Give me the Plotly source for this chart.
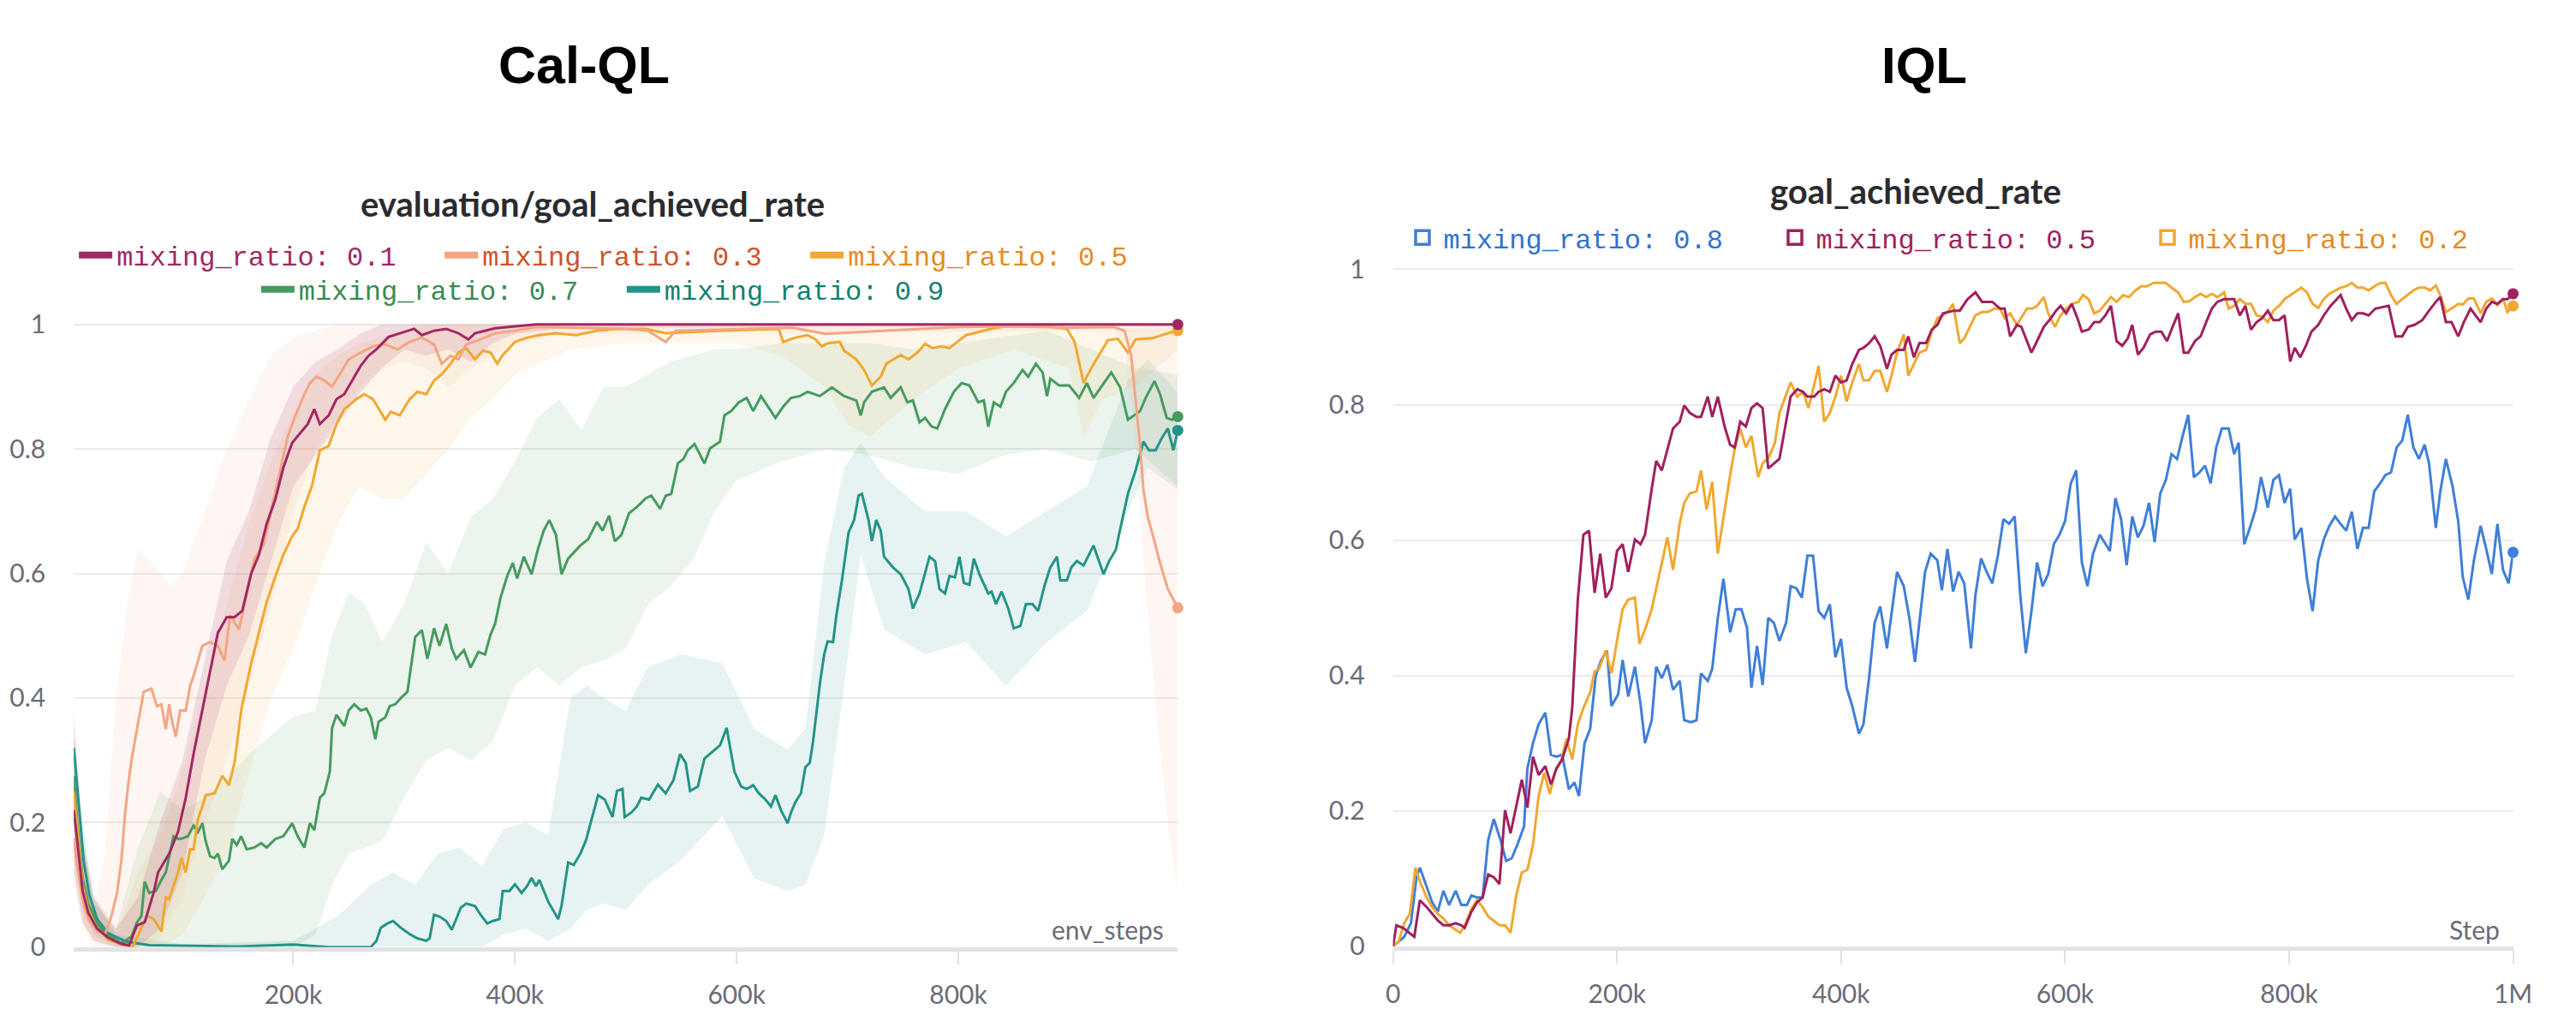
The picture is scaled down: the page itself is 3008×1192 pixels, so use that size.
import plotly.graph_objects as go

W, H = 3008, 1192

# ================= Cal-QL (left) : x in thousands of env_steps =================
CQ01_X = [2, 5, 10, 15, 23, 33, 45, 52, 59, 66, 74, 78, 88, 96, 103, 110, 118, 125, 132, 140, 147, 154, 162, 169,
          176, 184, 191, 199, 206, 213, 219, 224, 232, 239, 246, 253, 261, 268, 275, 286, 297, 309, 316, 327, 338,
          349, 358, 364, 382, 400, 419, 450, 500, 550, 600, 650, 700, 750, 800, 850, 900, 950, 998]
CQ01_Y = [0.22, 0.17, 0.09, 0.055, 0.03, 0.015, 0.005, 0.003, 0.035, 0.04, 0.087, 0.12, 0.15, 0.185, 0.24, 0.31,
          0.38, 0.44, 0.505, 0.53, 0.53, 0.54, 0.6, 0.63, 0.68, 0.72, 0.77, 0.81, 0.825, 0.84, 0.864, 0.84, 0.854,
          0.88, 0.888, 0.91, 0.934, 0.95, 0.96, 0.98, 0.986, 0.993, 0.983, 0.99, 0.993, 0.986, 0.976, 0.986, 0.994,
          0.997, 1.0, 1.0, 1.0, 1.0, 1.0, 1.0, 1.0, 1.0, 1.0, 1.0, 1.0, 1.0, 1.0]

CQ03_X = [2, 5, 10, 15, 23, 30, 36, 41, 45, 48, 51, 54, 59, 65, 72, 77, 81, 85, 88, 91, 94, 98, 103, 107, 110, 118,
          125, 132, 138, 143, 151, 158, 165, 173, 180, 187, 195, 202, 210, 215, 221, 228, 235, 243, 250, 261, 272,
          283, 294, 305, 316, 327, 334, 342, 349, 356, 367, 382, 400, 419, 450, 500, 520, 536, 545, 600, 650, 680,
          740, 800, 850, 900, 940, 950, 956, 960, 964, 967, 971, 975, 982, 989, 998]
CQ03_Y = [0.175, 0.13, 0.075, 0.045, 0.025, 0.02, 0.05, 0.087, 0.14, 0.21, 0.26, 0.3, 0.35, 0.41, 0.415, 0.387, 0.39,
          0.35, 0.39, 0.36, 0.338, 0.38, 0.38, 0.42, 0.435, 0.484, 0.49, 0.484, 0.46, 0.533, 0.51, 0.568, 0.624,
          0.645, 0.7, 0.756, 0.82, 0.854, 0.888, 0.906, 0.916, 0.91, 0.9, 0.923, 0.944, 0.955, 0.965, 0.968, 0.96,
          0.972, 0.979, 0.968, 0.937, 0.95, 0.944, 0.968, 0.975, 0.986, 0.99, 0.996, 0.995, 0.993, 0.99, 0.972, 0.99,
          0.993, 0.995, 0.985, 0.99, 0.996, 0.997, 0.995, 0.996, 0.99, 0.95, 0.88, 0.805, 0.735, 0.69, 0.665, 0.617,
          0.575, 0.545]

CQ05_X = [2, 5, 10, 15, 23, 33, 45, 55, 63, 68, 74, 81, 85, 88, 96, 99, 103, 107, 110, 114, 118, 121, 129, 136, 142,
          147, 153, 158, 162, 169, 176, 184, 191, 199, 204, 210, 217, 224, 232, 239, 246, 257, 264, 272, 279, 283,
          288, 296, 305, 312, 320, 327, 334, 342, 349, 356, 364, 371, 378, 384, 389, 400, 411, 422, 437, 455, 474,
          492, 518, 536, 587, 638, 642, 653, 664, 671, 677, 682, 693, 697, 708, 715, 722, 730, 735, 741, 748, 755,
          763, 770, 777, 785, 792, 799, 807, 814, 829, 843, 880, 898, 905, 913, 920, 935, 944, 953, 960, 975, 989,
          998]
CQ05_Y = [0.25, 0.19, 0.1, 0.06, 0.03, 0.012, 0.004, 0.0, 0.03, 0.05, 0.045, 0.025, 0.08, 0.077, 0.12, 0.143, 0.12,
          0.157, 0.157, 0.206, 0.226, 0.244, 0.247, 0.275, 0.26, 0.296, 0.38, 0.42, 0.456, 0.505, 0.554, 0.596, 0.63,
          0.66, 0.672, 0.707, 0.742, 0.798, 0.805, 0.84, 0.864, 0.88, 0.888, 0.88, 0.86, 0.847, 0.86, 0.854, 0.88,
          0.892, 0.888, 0.91, 0.92, 0.937, 0.955, 0.962, 0.944, 0.958, 0.955, 0.937, 0.951, 0.972, 0.979, 0.983,
          0.986, 0.983, 0.99, 0.993, 0.993, 0.986, 0.99, 0.993, 0.972, 0.979, 0.983, 0.976, 0.965, 0.97, 0.972,
          0.958, 0.944, 0.927, 0.902, 0.916, 0.937, 0.944, 0.951, 0.944, 0.955, 0.969, 0.962, 0.965, 0.962, 0.972,
          0.983, 0.986, 0.993, 0.997, 0.997, 0.993, 0.972, 0.906, 0.93, 0.975, 0.977, 0.955, 0.976, 0.978, 0.986,
          0.99]

CQ07_X = [2, 5, 10, 15, 23, 33, 45, 54, 59, 63, 66, 70, 76, 81, 85, 88, 92, 96, 99, 105, 110, 114, 118, 121, 125, 129,
          132, 136, 142, 145, 149, 153, 158, 165, 171, 176, 184, 191, 199, 204, 210, 215, 219, 224, 228, 233, 235,
          239, 246, 250, 255, 261, 266, 270, 274, 277, 283, 287, 292, 297, 303, 307, 310, 316, 321, 327, 332, 338,
          343, 347, 354, 360, 367, 373, 378, 382, 387, 393, 398, 402, 408, 415, 421, 426, 431, 437, 442, 448, 453,
          459, 466, 474, 479, 485, 490, 496, 503, 510, 518, 523, 531, 536, 541, 547, 552, 556, 562, 571, 576, 585,
          589, 595, 602, 609, 615, 622, 635, 642, 649, 657, 664, 675, 686, 697, 708, 712, 715, 722, 733, 739, 748,
          754, 759, 765, 770, 776, 781, 788, 796, 803, 810, 818, 823, 827, 832, 838, 843, 850, 858, 863, 870, 876,
          880, 883, 891, 900, 909, 916, 922, 931, 938, 946, 953, 964, 969, 977, 982, 988, 993, 998]
CQ07_Y = [0.275, 0.2, 0.11, 0.07, 0.038, 0.018, 0.006, 0.017, 0.04, 0.05, 0.105, 0.087, 0.09, 0.108, 0.12, 0.146,
          0.178, 0.174, 0.174, 0.178, 0.195, 0.185, 0.199, 0.17, 0.146, 0.143, 0.15, 0.125, 0.139, 0.174, 0.164,
          0.178, 0.157, 0.16, 0.167, 0.16, 0.174, 0.178, 0.199, 0.178, 0.16, 0.199, 0.188, 0.24, 0.247, 0.282, 0.352,
          0.373, 0.355, 0.38, 0.39, 0.38, 0.383, 0.369, 0.334, 0.362, 0.369, 0.387, 0.39, 0.4, 0.41, 0.46, 0.498,
          0.509, 0.463, 0.512, 0.484, 0.519, 0.48, 0.463, 0.477, 0.449, 0.474, 0.47, 0.502, 0.519, 0.561, 0.596,
          0.617, 0.592, 0.627, 0.599, 0.641, 0.669, 0.686, 0.662, 0.599, 0.624, 0.634, 0.645, 0.655, 0.683, 0.669,
          0.693, 0.652, 0.662, 0.697, 0.707, 0.721, 0.725, 0.704, 0.725, 0.728, 0.777, 0.784, 0.798, 0.808, 0.777,
          0.801, 0.812, 0.854, 0.861, 0.875, 0.882, 0.861, 0.885, 0.85, 0.868, 0.882, 0.885, 0.892, 0.885, 0.899,
          0.885, 0.878, 0.854, 0.875, 0.892, 0.899, 0.882, 0.899, 0.875, 0.878, 0.843, 0.85, 0.836, 0.833, 0.864,
          0.892, 0.906, 0.902, 0.875, 0.878, 0.836, 0.875, 0.868, 0.892, 0.906, 0.927, 0.916, 0.937, 0.923, 0.885,
          0.913, 0.902, 0.902, 0.882, 0.906, 0.882, 0.906, 0.923, 0.899, 0.847, 0.861, 0.882, 0.909, 0.888, 0.85,
          0.847, 0.852]

CQ09_X = [2, 5, 11, 16, 23, 33, 49, 70, 100, 150, 200, 232, 270, 275, 279, 285, 290, 297, 305, 312, 320, 323, 327,
          332, 338, 343, 347, 351, 356, 364, 369, 375, 380, 386, 389, 395, 400, 406, 411, 415, 419, 422, 430, 439,
          442, 448, 453, 459, 464, 470, 475, 481, 488, 492, 497, 499, 505, 510, 514, 521, 529, 536, 543, 549, 554,
          558, 565, 571, 578, 585, 591, 598, 604, 609, 615, 620, 626, 631, 635, 640, 646, 649, 653, 658, 662, 666,
          669, 675, 679, 682, 687, 690, 695, 701, 706, 710, 713, 719, 722, 726, 730, 733, 741, 748, 755, 759, 765,
          770, 774, 779, 783, 788, 792, 797, 801, 805, 810, 814, 819, 827, 830, 834, 839, 845, 850, 856, 861, 867,
          872, 878, 883, 889, 892, 898, 902, 907, 913, 922, 931, 936, 942, 947, 953, 960, 967, 972, 978, 984, 989,
          994, 998]
CQ09_Y = [0.32, 0.26, 0.137, 0.084, 0.045, 0.022, 0.009, 0.003, 0.002, 0.001, 0.004, 0.0, 0.0, 0.01, 0.031, 0.038,
          0.042, 0.031, 0.021, 0.014, 0.01, 0.014, 0.052, 0.049, 0.042, 0.028, 0.045, 0.063, 0.07, 0.066, 0.052,
          0.038, 0.042, 0.045, 0.09, 0.09, 0.101, 0.087, 0.098, 0.111, 0.098, 0.108, 0.073, 0.045, 0.066, 0.136,
          0.132, 0.15, 0.171, 0.213, 0.244, 0.237, 0.209, 0.251, 0.254, 0.209, 0.216, 0.226, 0.24, 0.237, 0.261,
          0.247, 0.268, 0.31, 0.296, 0.251, 0.258, 0.303, 0.314, 0.324, 0.352, 0.282, 0.258, 0.254, 0.26, 0.247,
          0.237, 0.226, 0.244, 0.22, 0.199, 0.216, 0.233, 0.247, 0.289, 0.296, 0.331, 0.422, 0.47, 0.491, 0.49,
          0.533, 0.589, 0.666, 0.686, 0.725, 0.728, 0.686, 0.652, 0.686, 0.669, 0.627, 0.61, 0.599, 0.575, 0.544,
          0.568, 0.603, 0.627, 0.62, 0.575, 0.568, 0.596, 0.594, 0.627, 0.585, 0.582, 0.624, 0.599, 0.568, 0.571,
          0.551, 0.571, 0.544, 0.512, 0.516, 0.551, 0.551, 0.54, 0.582, 0.61, 0.627, 0.589, 0.589, 0.61, 0.62,
          0.613, 0.645, 0.599, 0.62, 0.638, 0.679, 0.728, 0.766, 0.812, 0.798, 0.798, 0.819, 0.833, 0.798, 0.83]

# min / max bands of the runs
CQ01_BX = [2, 10, 20, 40, 60, 80, 100, 120, 140, 160, 180, 200, 220, 240, 260, 280, 300, 320, 340, 360, 380, 400, 450, 998]
CQ01_LO = [0.12, 0.04, 0.01, 0.0, 0.0, 0.03, 0.12, 0.3, 0.42, 0.5, 0.62, 0.74, 0.79, 0.84, 0.89, 0.93, 0.96, 0.95,
           0.96, 0.94, 0.97, 0.985, 0.995, 0.997]
CQ01_HI = [0.38, 0.17, 0.08, 0.03, 0.08, 0.2, 0.3, 0.46, 0.62, 0.7, 0.82, 0.9, 0.94, 0.96, 0.985, 1.0, 1.0, 1.0, 1.0,
           1.0, 1.0, 1.0, 1.0, 1.0]

CQ03_BX = [2, 10, 20, 30, 40, 50, 60, 70, 80, 90, 100, 120, 140, 160, 180, 200, 220, 240, 260, 280, 300, 320, 340, 360,
           400, 450, 940, 950, 960, 970, 980, 990, 998]
CQ03_LO = [0.1, 0.03, 0.0, 0.0, 0.0, 0.0, 0.0, 0.0, 0.02, 0.05, 0.08, 0.2, 0.3, 0.42, 0.55, 0.7, 0.8, 0.85, 0.9, 0.93,
           0.94, 0.93, 0.9, 0.93, 0.97, 0.985, 0.99, 0.97, 0.8, 0.55, 0.35, 0.18, 0.09]
CQ03_HI = [0.3, 0.12, 0.06, 0.15, 0.4, 0.55, 0.64, 0.62, 0.6, 0.58, 0.6, 0.7, 0.8, 0.88, 0.95, 0.98, 0.99, 1.0, 1.0,
           1.0, 1.0, 1.0, 1.0, 1.0, 1.0, 1.0, 1.0, 1.0, 1.0, 1.0, 1.0, 1.0, 1.0]

CQ05_BX = [2, 10, 20, 40, 60, 80, 100, 120, 140, 160, 180, 200, 220, 240, 260, 280, 300, 320, 340, 360, 380, 400, 450,
           500, 600, 640, 680, 700, 720, 760, 800, 850, 900, 913, 930, 960, 998]
CQ05_LO = [0.15, 0.04, 0.01, 0.0, 0.0, 0.0, 0.02, 0.08, 0.15, 0.28, 0.4, 0.48, 0.58, 0.68, 0.74, 0.72, 0.72, 0.76, 0.8,
           0.85, 0.88, 0.92, 0.96, 0.97, 0.97, 0.95, 0.9, 0.84, 0.82, 0.88, 0.93, 0.96, 0.93, 0.82, 0.88, 0.9, 0.96]
CQ05_HI = [0.35, 0.17, 0.08, 0.02, 0.12, 0.18, 0.28, 0.42, 0.55, 0.68, 0.78, 0.86, 0.92, 0.95, 0.97, 0.98, 0.99, 1.0,
           1.0, 1.0, 1.0, 1.0, 1.0, 1.0, 1.0, 1.0, 1.0, 1.0, 1.0, 1.0, 1.0, 1.0, 1.0, 1.0, 1.0, 1.0, 1.0]

CQ07_BX = [2, 10, 20, 40, 60, 80, 100, 120, 140, 160, 180, 200, 220, 235, 250, 265, 280, 300, 320, 340, 360, 380, 400,
           420, 440, 460, 480, 500, 520, 540, 560, 580, 600, 640, 680, 720, 760, 800, 840, 880, 920, 960, 998]
CQ07_LO = [0.2, 0.06, 0.02, 0.0, 0.0, 0.0, 0.0, 0.0, 0.0, 0.0, 0.0, 0.0, 0.02, 0.1, 0.15, 0.16, 0.17, 0.24, 0.3, 0.32,
           0.3, 0.33, 0.42, 0.45, 0.42, 0.45, 0.46, 0.48, 0.55, 0.58, 0.62, 0.7, 0.75, 0.78, 0.8, 0.79, 0.77, 0.76,
           0.79, 0.8, 0.78, 0.8, 0.74]
CQ07_HI = [0.3, 0.18, 0.07, 0.03, 0.16, 0.25, 0.22, 0.24, 0.27, 0.31, 0.34, 0.37, 0.38, 0.5, 0.57, 0.55, 0.49, 0.55,
           0.65, 0.6, 0.69, 0.72, 0.78, 0.85, 0.88, 0.83, 0.9, 0.9, 0.92, 0.94, 0.95, 0.96, 0.96, 0.97, 0.97, 0.97,
           0.96, 0.97, 0.98, 0.99, 0.96, 0.93, 0.92]

CQ09_BX = [2, 10, 20, 40, 100, 200, 240, 270, 290, 310, 330, 350, 370, 390, 410, 430, 450, 465, 480, 500, 520, 550, 587,
           616, 646, 662, 679, 697, 712, 733, 770, 807, 843, 880, 916, 953, 971, 998]
CQ09_LO = [0.25, 0.08, 0.03, 0.005, 0.0, 0.0, 0.0, 0.0, 0.0, 0.0, 0.0, 0.0, 0.0, 0.02, 0.03, 0.01, 0.03, 0.06, 0.07,
           0.06, 0.1, 0.14, 0.21, 0.11, 0.09, 0.1, 0.18, 0.42, 0.63, 0.51, 0.47, 0.49, 0.42, 0.49, 0.54, 0.7, 0.77,
           0.735]
CQ09_HI = [0.34, 0.2, 0.08, 0.02, 0.005, 0.01, 0.05, 0.1, 0.12, 0.1, 0.15, 0.16, 0.13, 0.19, 0.2, 0.18, 0.4, 0.42, 0.4,
           0.38, 0.45, 0.47, 0.456, 0.35, 0.317, 0.35, 0.617, 0.77, 0.81, 0.756, 0.7, 0.7, 0.66, 0.7, 0.74, 0.91,
           0.944, 0.89]

# ================= IQL (right) : x in thousands of steps =================
IQ08_X = [0, 5, 10, 16, 21, 24, 30, 35, 40, 45, 50, 56, 61, 66, 70, 75, 80, 85, 90, 96, 101, 106, 111, 117, 120, 125,
          130, 136, 141, 146, 151, 157, 162, 166, 171, 176, 181, 186, 191, 195, 201, 205, 210, 216, 221, 225, 231,
          235, 240, 245, 250, 256, 260, 266, 271, 275, 281, 285, 290, 295, 301, 306, 311, 316, 320, 325, 330, 335,
          340, 345, 351, 355, 360, 365, 370, 375, 380, 385, 390, 395, 400, 405, 410, 416, 420, 425, 430, 435, 441,
          445, 450, 456, 461, 466, 471, 475, 480, 486, 490, 495, 500, 505, 510, 516, 520, 525, 530, 535, 540, 545,
          550, 555, 560, 565, 570, 575, 580, 585, 590, 595, 600, 605, 610, 615, 620, 625, 631, 635, 640, 645, 650,
          655, 660, 665, 670, 675, 680, 685, 690, 695, 700, 705, 710, 715, 720, 725, 730, 735, 740, 746, 751, 755,
          760, 765, 770, 775, 781, 786, 791, 796, 801, 805, 811, 816, 821, 826, 831, 836, 841, 846, 851, 856, 861,
          866, 871, 876, 881, 886, 891, 896, 901, 906, 911, 916, 921, 925, 931, 935, 940, 946, 951, 955, 960, 965,
          971, 976, 981, 986, 991, 996, 1000]
IQ08_Y = [0.0, 0.007, 0.014, 0.034, 0.102, 0.116, 0.089, 0.065, 0.051, 0.082, 0.061, 0.082, 0.061, 0.061, 0.075,
          0.072, 0.072, 0.157, 0.188, 0.157, 0.126, 0.13, 0.15, 0.177, 0.263, 0.3, 0.328, 0.345, 0.283, 0.28, 0.283,
          0.232, 0.242, 0.222, 0.3, 0.321, 0.4, 0.423, 0.437, 0.355, 0.372, 0.423, 0.369, 0.413, 0.358, 0.3, 0.334,
          0.413, 0.396, 0.416, 0.379, 0.392, 0.334, 0.331, 0.334, 0.403, 0.392, 0.41, 0.485, 0.543, 0.464, 0.498,
          0.498, 0.471, 0.382, 0.444, 0.386, 0.485, 0.478, 0.451, 0.478, 0.532, 0.529, 0.515, 0.577, 0.577, 0.495,
          0.485, 0.505, 0.427, 0.454, 0.382, 0.355, 0.314, 0.328, 0.396, 0.478, 0.502, 0.44, 0.491, 0.553, 0.532,
          0.485, 0.42, 0.495, 0.553, 0.58, 0.57, 0.526, 0.587, 0.524, 0.553, 0.536, 0.44, 0.519, 0.573, 0.553, 0.536,
          0.577, 0.631, 0.624, 0.635, 0.519, 0.433, 0.495, 0.567, 0.532, 0.55, 0.594, 0.608, 0.628, 0.683, 0.703,
          0.567, 0.532, 0.58, 0.608, 0.597, 0.584, 0.662, 0.631, 0.563, 0.635, 0.604, 0.621, 0.655, 0.597, 0.669,
          0.689, 0.727, 0.72, 0.754, 0.785, 0.693, 0.7, 0.71, 0.684, 0.737, 0.765, 0.765, 0.727, 0.744, 0.594,
          0.618, 0.645, 0.693, 0.648, 0.689, 0.696, 0.655, 0.676, 0.601, 0.618, 0.543, 0.495, 0.57, 0.601, 0.621,
          0.635, 0.624, 0.614, 0.642, 0.587, 0.618, 0.618, 0.672, 0.683, 0.696, 0.7, 0.737, 0.747, 0.785, 0.737,
          0.72, 0.741, 0.713, 0.618, 0.672, 0.72, 0.679, 0.628, 0.546, 0.512, 0.57, 0.621, 0.587, 0.55, 0.624,
          0.556, 0.536, 0.582]

IQ05_X = [0, 3, 9, 14, 19, 24, 30, 35, 40, 45, 50, 56, 61, 64, 70, 75, 80, 85, 90, 95, 100, 105, 110, 115, 120, 125,
          130, 136, 141, 146, 151, 157, 160, 165, 170, 175, 180, 185, 190, 195, 200, 205, 210, 216, 221, 225, 231,
          235, 240, 245, 250, 256, 260, 265, 271, 275, 281, 285, 290, 296, 301, 305, 310, 315, 320, 325, 330, 335,
          340, 345, 351, 355, 361, 366, 370, 376, 380, 385, 390, 395, 400, 405, 410, 416, 420, 425, 430, 435, 441,
          445, 450, 456, 460, 465, 470, 476, 481, 486, 491, 496, 501, 506, 513, 520, 526, 535, 542, 546, 551, 557,
          561, 566, 570, 575, 581, 586, 592, 596, 601, 606, 611, 615, 621, 626, 631, 636, 641, 646, 651, 656, 660,
          665, 670, 676, 681, 686, 691, 696, 701, 706, 710, 716, 721, 726, 731, 736, 742, 747, 751, 756, 761, 766,
          771, 776, 781, 786, 791, 796, 801, 805, 810, 815, 820, 826, 831, 837, 846, 851, 856, 861, 866, 871, 877,
          889, 895, 901, 906, 912, 919, 925, 931, 935, 940, 945, 951, 956, 962, 971, 976, 981, 986, 991, 995, 1000]
IQ05_Y = [0.0, 0.031, 0.027, 0.02, 0.014, 0.068, 0.058, 0.048, 0.038, 0.031, 0.031, 0.034, 0.031, 0.027, 0.051, 0.065,
          0.072, 0.106, 0.102, 0.092, 0.201, 0.167, 0.208, 0.246, 0.205, 0.28, 0.253, 0.266, 0.239, 0.263, 0.276,
          0.307, 0.352, 0.512, 0.608, 0.614, 0.522, 0.58, 0.515, 0.529, 0.584, 0.594, 0.553, 0.601, 0.594, 0.608,
          0.676, 0.717, 0.703, 0.734, 0.765, 0.775, 0.799, 0.788, 0.782, 0.782, 0.812, 0.782, 0.812, 0.768, 0.741,
          0.737, 0.775, 0.768, 0.795, 0.802, 0.795, 0.706, 0.713, 0.72, 0.775, 0.812, 0.823, 0.819, 0.812, 0.812,
          0.819, 0.823, 0.819, 0.843, 0.833, 0.836, 0.86, 0.881, 0.884, 0.891, 0.901, 0.887, 0.853, 0.874, 0.881,
          0.881, 0.901, 0.87, 0.891, 0.891, 0.911, 0.918, 0.935, 0.937, 0.939, 0.939, 0.956, 0.966, 0.952, 0.952,
          0.942, 0.942, 0.901, 0.918, 0.915, 0.894, 0.877, 0.894, 0.915, 0.925, 0.939, 0.946, 0.935, 0.949, 0.928,
          0.908, 0.911, 0.922, 0.922, 0.932, 0.946, 0.894, 0.887, 0.898, 0.918, 0.874, 0.884, 0.904, 0.908, 0.908,
          0.894, 0.915, 0.935, 0.877, 0.877, 0.894, 0.901, 0.922, 0.942, 0.952, 0.956, 0.956, 0.956, 0.932, 0.946,
          0.911, 0.922, 0.928, 0.939, 0.925, 0.925, 0.932, 0.864, 0.884, 0.87, 0.887, 0.908, 0.918, 0.932, 0.946,
          0.962, 0.942, 0.925, 0.935, 0.935, 0.932, 0.942, 0.946, 0.901, 0.901, 0.915, 0.918, 0.925, 0.939, 0.952,
          0.959, 0.922, 0.922, 0.901, 0.922, 0.942, 0.922, 0.942, 0.952, 0.949, 0.956, 0.956, 0.964]

IQ02_X = [0, 5, 10, 15, 20, 24, 30, 35, 40, 45, 50, 56, 60, 64, 70, 75, 80, 85, 90, 95, 100, 105, 110, 115, 120, 125,
          130, 135, 140, 145, 150, 155, 160, 165, 170, 176, 180, 184, 190, 195, 200, 205, 210, 216, 220, 225, 231,
          235, 240, 245, 250, 256, 260, 265, 271, 275, 280, 285, 290, 296, 301, 305, 310, 315, 320, 326, 330, 336,
          341, 345, 351, 355, 361, 366, 371, 376, 380, 385, 390, 395, 400, 405, 410, 416, 420, 425, 430, 435, 441,
          445, 450, 456, 460, 465, 470, 476, 481, 486, 491, 496, 500, 506, 510, 515, 520, 526, 531, 537, 542, 546,
          551, 557, 561, 566, 571, 575, 581, 585, 591, 596, 601, 606, 612, 616, 621, 626, 631, 636, 641, 646, 652,
          657, 663, 668, 673, 679, 685, 690, 695, 701, 706, 711, 716, 721, 726, 731, 736, 742, 746, 751, 756, 761,
          766, 771, 776, 781, 786, 791, 796, 801, 805, 811, 816, 821, 826, 831, 836, 841, 846, 851, 856, 861, 866,
          871, 877, 882, 886, 891, 896, 901, 906, 911, 916, 921, 926, 931, 935, 940, 945, 951, 955, 960, 965, 971,
          976, 981, 986, 991, 995, 1000]
IQ02_Y = [0.0, 0.007, 0.034, 0.048, 0.116, 0.096, 0.072, 0.058, 0.048, 0.041, 0.031, 0.024, 0.02, 0.031, 0.055,
          0.068, 0.058, 0.044, 0.038, 0.031, 0.031, 0.02, 0.075, 0.109, 0.113, 0.15, 0.222, 0.256, 0.225, 0.259,
          0.273, 0.307, 0.276, 0.328, 0.352, 0.375, 0.406, 0.41, 0.437, 0.403, 0.451, 0.498, 0.512, 0.515, 0.447,
          0.468, 0.498, 0.529, 0.567, 0.604, 0.556, 0.625, 0.655, 0.669, 0.672, 0.703, 0.645, 0.686, 0.58, 0.645,
          0.696, 0.734, 0.765, 0.737, 0.754, 0.693, 0.713, 0.724, 0.744, 0.788, 0.816, 0.833, 0.812, 0.819, 0.795,
          0.829, 0.857, 0.775, 0.788, 0.812, 0.843, 0.805, 0.833, 0.86, 0.836, 0.836, 0.85, 0.85, 0.819, 0.843,
          0.877, 0.904, 0.843, 0.86, 0.877, 0.881, 0.908, 0.928, 0.932, 0.939, 0.949, 0.891, 0.898, 0.915, 0.932,
          0.937, 0.937, 0.942, 0.942, 0.928, 0.935, 0.918, 0.928, 0.942, 0.942, 0.946, 0.959, 0.935, 0.915, 0.932,
          0.942, 0.949, 0.952, 0.962, 0.956, 0.935, 0.939, 0.949, 0.959, 0.952, 0.962, 0.959, 0.969, 0.975, 0.975,
          0.98, 0.98, 0.98, 0.973, 0.966, 0.952, 0.953, 0.959, 0.964, 0.959, 0.964, 0.959, 0.966, 0.942, 0.946,
          0.956, 0.949, 0.949, 0.932, 0.93, 0.922, 0.939, 0.946, 0.956, 0.962, 0.966, 0.973, 0.966, 0.949, 0.943,
          0.956, 0.964, 0.968, 0.973, 0.975, 0.98, 0.973, 0.973, 0.969, 0.976, 0.98, 0.98, 0.962, 0.949, 0.956,
          0.962, 0.969, 0.973, 0.973, 0.969, 0.976, 0.962, 0.937, 0.942, 0.949, 0.948, 0.957, 0.957, 0.935, 0.952,
          0.957, 0.947, 0.957, 0.937, 0.946]

X_TICKS_L = [200, 400, 600, 800]
X_TICKS_R = [0, 200, 400, 600, 800, 1000]
X_TICKTEXT_L = ["200k", "400k", "600k", "800k"]
X_TICKTEXT_R = ["0", "200k", "400k", "600k", "800k", "1M"]
Y_TICKS = [0, 0.2, 0.4, 0.6, 0.8, 1]
Y_TICKTEXT = ["0", "0.2", "0.4", "0.6", "0.8", "1"]

# ---------------- styling ----------------
C01, C03, C05, C07, C09 = "#A12864", "#F4A583", "#F0A830", "#479A5F", "#229487"
T01, T03, T05, T07, T09 = "#A12864", "#CC5529", "#E58A1F", "#3A8A50", "#13806F"
CB, CM, CO = "#3F7FD8", "#A0205E", "#F0A830"
TB, TM, TO = "#2F72D2", "#A0205E", "#E58A1F"
BAND = {C01: "rgba(161,40,100,0.13)", C03: "rgba(244,165,131,0.10)", C05: "rgba(240,168,48,0.10)",
        C07: "rgba(71,154,95,0.11)", C09: "rgba(34,148,135,0.11)"}

TICKFONT = dict(family="Lato", size=30, color="#6b6b78")
GRID = "#ebebeb"
AXLINE = "#e2e2e6"

fig = go.Figure()

def k(xs):
    return [v * 1000 for v in xs]

left = [(CQ09_X, CQ09_Y, CQ09_BX, CQ09_LO, CQ09_HI, C09),
        (CQ07_X, CQ07_Y, CQ07_BX, CQ07_LO, CQ07_HI, C07),
        (CQ05_X, CQ05_Y, CQ05_BX, CQ05_LO, CQ05_HI, C05),
        (CQ03_X, CQ03_Y, CQ03_BX, CQ03_LO, CQ03_HI, C03),
        (CQ01_X, CQ01_Y, CQ01_BX, CQ01_LO, CQ01_HI, C01)]

for xs, ys, bx, lo, hi, col in left:
    fig.add_trace(go.Scatter(x=k(bx), y=lo, mode="lines", line=dict(width=0, color=col),
                             showlegend=False, hoverinfo="skip", xaxis="x", yaxis="y"))
    fig.add_trace(go.Scatter(x=k(bx), y=hi, mode="lines", line=dict(width=0, color=col), fill="tonexty",
                             fillcolor=BAND[col], showlegend=False, hoverinfo="skip", xaxis="x", yaxis="y"))
for xs, ys, bx, lo, hi, col in left:
    fig.add_trace(go.Scatter(x=k(xs), y=ys, mode="lines", line=dict(width=3, color=col),
                             showlegend=False, xaxis="x", yaxis="y", cliponaxis=False))
for xs, ys, bx, lo, hi, col in left:
    fig.add_trace(go.Scatter(x=k(xs[-1:]), y=ys[-1:], mode="markers", marker=dict(size=13, color=col),
                             showlegend=False, xaxis="x", yaxis="y", cliponaxis=False))

right = [(IQ08_X, IQ08_Y, CB), (IQ02_X, IQ02_Y, CO), (IQ05_X, IQ05_Y, CM)]
for xs, ys, col in right:
    fig.add_trace(go.Scatter(x=k(xs), y=ys, mode="lines", line=dict(width=3, color=col),
                             showlegend=False, xaxis="x2", yaxis="y2", cliponaxis=False))
for xs, ys, col in right:
    fig.add_trace(go.Scatter(x=k(xs[-1:]), y=ys[-1:], mode="markers", marker=dict(size=13, color=col),
                             showlegend=False, xaxis="x2", yaxis="y2", cliponaxis=False))

# legend entries
def lname(txt, c):
    return "<span style='color:%s'>%s</span>" % (c, txt)

for txt, col, tc, lg in [("mixing_ratio: 0.1", C01, T01, "legend"), ("mixing_ratio: 0.3", C03, T03, "legend"),
                         ("mixing_ratio: 0.5", C05, T05, "legend"), ("mixing_ratio: 0.7", C07, T07, "legend2"),
                         ("mixing_ratio: 0.9", C09, T09, "legend2")]:
    fig.add_trace(go.Scatter(x=[None], y=[None], mode="lines", line=dict(width=8, color=col),
                             name=lname(txt, tc), legend=lg, xaxis="x", yaxis="y"))
for txt, col, tc in [("mixing_ratio: 0.8", CB, TB), ("mixing_ratio: 0.5", CM, TM), ("mixing_ratio: 0.2", CO, TO)]:
    fig.add_trace(go.Scatter(x=[None], y=[None], mode="markers",
                             marker=dict(symbol="square-open", size=16, color=col, line=dict(width=3.5, color=col)),
                             name=lname(txt, tc), legend="legend3", xaxis="x2", yaxis="y2"))

# plot-area geometry (pixels of the 3008x1192 page)
L_LEFT, L_RIGHT, L_TOP1, L_ZERO = 78, 1381, 376, 1121
R_LEFT, R_RIGHT, R_TOP1, R_ZERO = 1635, 2957, 310, 1120
YMAX = 1.01

def ydom(top1, zero):
    top = top1 - (YMAX - 1) * (zero - top1)
    return [(H - zero) / H, (H - top) / H]

LX = [L_LEFT / W, L_RIGHT / W]
RX = [R_LEFT / W, R_RIGHT / W]
LY = ydom(L_TOP1, L_ZERO)
RY = ydom(R_TOP1, R_ZERO)

def xax(dom, rng, tv, tt, anchor):
    return dict(domain=dom, range=rng, tickvals=k(tv), ticktext=tt, showgrid=False, zeroline=False,
                showline=True, linecolor=AXLINE, linewidth=5, ticks="outside", ticklen=15, tickwidth=2,
                tickcolor=AXLINE, tickfont=TICKFONT, ticklabelstandoff=10, anchor=anchor, fixedrange=True)

def xov(dom, rng, tv, over, anchor):
    return dict(domain=dom, range=rng, tickvals=k(tv), showticklabels=False, showgrid=False, zeroline=False,
                showline=False, ticks="inside", ticklen=15, tickwidth=2, tickcolor=AXLINE, overlaying=over,
                anchor=anchor)

def yax(dom, anchor):
    return dict(domain=dom, range=[0, YMAX], tickvals=Y_TICKS, ticktext=Y_TICKTEXT, showgrid=True, gridcolor=GRID,
                gridwidth=2, zeroline=False, showline=False, ticks="", tickfont=TICKFONT, ticklabelstandoff=32,
                anchor=anchor)

LEGFONT = dict(family="Liberation Mono", size=32)
LEGCOMMON = dict(orientation="h", xanchor="left", yanchor="middle", font=LEGFONT, bgcolor="rgba(0,0,0,0)",
                 traceorder="normal", itemwidth=39, entrywidthmode="pixels")

fig.update_layout(
    width=W, height=H, margin=dict(l=0, r=0, t=0, b=0), paper_bgcolor="white", plot_bgcolor="white",
    xaxis=xax(LX, [2000, 998000], X_TICKS_L, X_TICKTEXT_L, "y"),
    yaxis=yax(LY, "x"),
    xaxis2=xax(RX, [0, 1000000], X_TICKS_R, X_TICKTEXT_R, "y2"),
    yaxis2=yax(RY, "x2"),
    xaxis3=xov(LX, [2000, 998000], X_TICKS_L, "x", "y"),
    xaxis4=xov(RX, [0, 1000000], X_TICKS_R, "x2", "y2"),
    legend=dict(x=79 / W, y=1 - 293 / H, entrywidth=373, **LEGCOMMON),
    legend2=dict(x=294 / W, y=1 - 334 / H, entrywidth=373, **LEGCOMMON),
    legend3=dict(x=1645 / W, y=1 - 272 / H, entrywidth=381, **LEGCOMMON),
    showlegend=True,
)

ann = [
    dict(text="Cal-QL", x=680 / W, y=1 - 66 / H, font=dict(family="Liberation Sans", size=61, color="#000000",
                                                           weight=700)),
    dict(text="IQL", x=2262 / W, y=1 - 66 / H, font=dict(family="Liberation Sans", size=60, color="#000000",
                                                        weight=700)),
    dict(text="evaluation/goal_achieved_rate", x=690 / W, y=1 - 232 / H,
         font=dict(family="Lato", size=40, color="#2b2b2e", weight=700)),
    dict(text="goal_achieved_rate", x=2252 / W, y=1 - 216 / H,
         font=dict(family="Lato", size=40, color="#2b2b2e", weight=700)),
]
for a in ann:
    fig.add_annotation(xref="paper", yref="paper", showarrow=False, xanchor="center", yanchor="middle", **a)
fig.add_annotation(text="env_steps", xref="paper", yref="paper", x=1367 / W, y=1 - 1100 / H, xanchor="right",
                   yanchor="middle", showarrow=False, font=dict(family="Lato", size=30, color="#6b6b78"))
fig.add_annotation(text="Step", xref="paper", yref="paper", x=2943 / W, y=1 - 1100 / H, xanchor="right",
                   yanchor="middle", showarrow=False, font=dict(family="Lato", size=30, color="#6b6b78"))

fig.write_html("out.html", config={"displayModeBar": False},
               post_script="document.body.style.margin='0px';")
